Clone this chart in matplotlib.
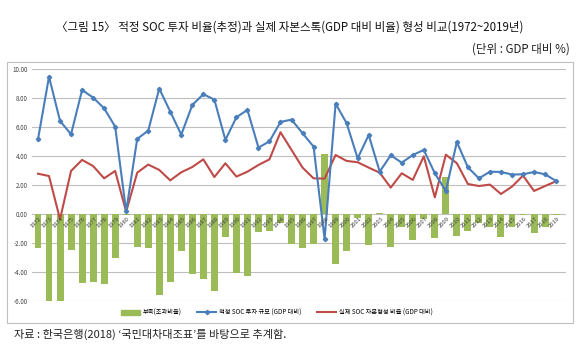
import matplotlib
matplotlib.use("Agg")
import matplotlib.pyplot as plt
import matplotlib.patches as mpatches
from matplotlib.lines import Line2D
import numpy as np

plt.rcParams['font.family'] = ['Noto Sans CJK KR', 'DejaVu Sans']

years = list(range(1972, 2020))
optimal = [5.17, 9.49, 6.44, 5.52, 8.57, 8.05, 7.31, 6.05, 0.20,
           5.20, 5.77, 8.67, 7.08, 5.49, 7.54, 8.28, 7.91, 5.13,
           6.69, 7.20, 4.60, 5.03, 6.37, 6.53, 5.59, 4.67, -1.70,
           7.63, 6.28, 3.86, 5.47, 2.94, 4.07, 3.56, 4.09, 4.44,
           2.83, 1.61, 4.99, 3.24, 2.48, 2.94, 2.92, 2.74, 2.76,
           2.92, 2.76, 2.30]
actual = [2.80, 2.64, -0.34, 2.99, 3.75, 3.33, 2.48, 2.99, 0.18,
          2.87, 3.43, 3.06, 2.34, 2.90, 3.26, 3.79, 2.57, 3.52,
          2.60, 2.94, 3.40, 3.79, 5.66, 4.44, 3.22, 2.48, 2.46,
          4.09, 3.68, 3.59, 3.22, 2.87, 1.84, 2.83, 2.37, 4.00,
          1.17, 4.11, 3.52, 2.09, 1.95, 2.05, 1.40, 1.91, 2.67,
          1.61, 1.95, 2.28]
gap = [-2.30, -6.00, -6.00, -2.46, -4.76, -4.64, -4.80, -2.99, -0.03,
       -2.28, -2.34, -5.56, -4.69, -2.53, -4.14, -4.44, -5.26, -1.54,
       -4.07, -4.25, -1.20, -1.17, -0.57, -2.05, -2.30, -2.07, 4.14,
       -3.43, -2.53, -0.23, -2.11, 0.07, -2.28, -0.85, -1.77, -0.32,
       -1.66, 2.55, -1.47, -1.17, -0.62, -0.90, -1.54, -0.90, -0.07,
       -1.31, -0.85, -0.02]
yticks = [-6, -4, -2, 0, 2, 4, 6, 8, 10]

title = "〈그림 15〉 적정 SOC 투자 비율(추정)과 실제 자본스톡(GDP 대비 비율) 형성 비교(1972~2019년)"
unit = "(단위 : GDP 대비 %)"
source = "자료 : 한국은행(2018) ‘국민대차대조표’를 바탕으로 추계함."
legend_labels = ["부족(초과비율)", "적정 SOC 투자 규모 (GDP 대비)", "실제 SOC 자본형성 비율 (GDP 대비)"]

W, H = 580, 355
fig = plt.figure(figsize=(5.8, 3.55), dpi=100)

# outer chart border
fig.patches.append(mpatches.Rectangle((6.7 / W, 1 - 322.7 / H), (572.7 - 6.7) / W, (322.7 - 61.7) / H,
                                      transform=fig.transFigure, fill=False,
                                      edgecolor='#BFBFBF', linewidth=0.8))

ax = fig.add_axes([31.7 / W, 1 - 301.3 / H, (566 - 31.7) / W, (301.3 - 69.3) / H])
x = np.arange(len(years))

ax.bar(x, gap, width=0.63, color='#9BBB59', zorder=2)
ax.plot(x, optimal, color='#4A7EBB', linewidth=1.5, marker='D', markersize=2.2, zorder=4)
ax.plot(x, actual, color='#BE4B48', linewidth=1.5, zorder=3)

ax.set_ylim(-6, 10)
ax.set_xlim(-0.57, 47.9)
ax.set_yticks(yticks)
ax.set_yticklabels([f"{v:.2f}" for v in yticks], fontsize=4.5, color='#404040')
ax.yaxis.grid(True, color='#BFBFBF', linewidth=0.8, zorder=0)
ax.set_axisbelow(True)
ax.tick_params(axis='y', length=0, pad=3)
ax.set_xticks([])
for s in ax.spines.values():
    s.set_visible(False)

for i, yr in enumerate(years):
    ax.text(i + 0.1, -0.1, str(yr), rotation=45, rotation_mode='anchor',
            ha='right', va='top', fontsize=4.2, color='#404040', zorder=5)

handles = [mpatches.Patch(color='#9BBB59'),
           Line2D([0], [0], color='#4A7EBB', linewidth=1.5, marker='D', markersize=2.2),
           Line2D([0], [0], color='#BE4B48', linewidth=1.5)]
fig.legend(handles, legend_labels, loc='center', bbox_to_anchor=(277 / W, 1 - 312.5 / H),
           ncol=3, frameon=False, fontsize=4.5, handlelength=3, columnspacing=2.5,
           handletextpad=0.5)

fig.text(290 / W, 1 - 27 / H, title, ha='center', va='center', fontsize=8.3, color='#111111')
fig.text(570 / W, 1 - 49 / H, unit, ha='right', va='center', fontsize=8.3, color='#222222')
fig.text(14 / W, 1 - 334 / H, source, ha='left', va='center', fontsize=8.0, color='#222222')

fig.savefig('out.png', dpi=100)
